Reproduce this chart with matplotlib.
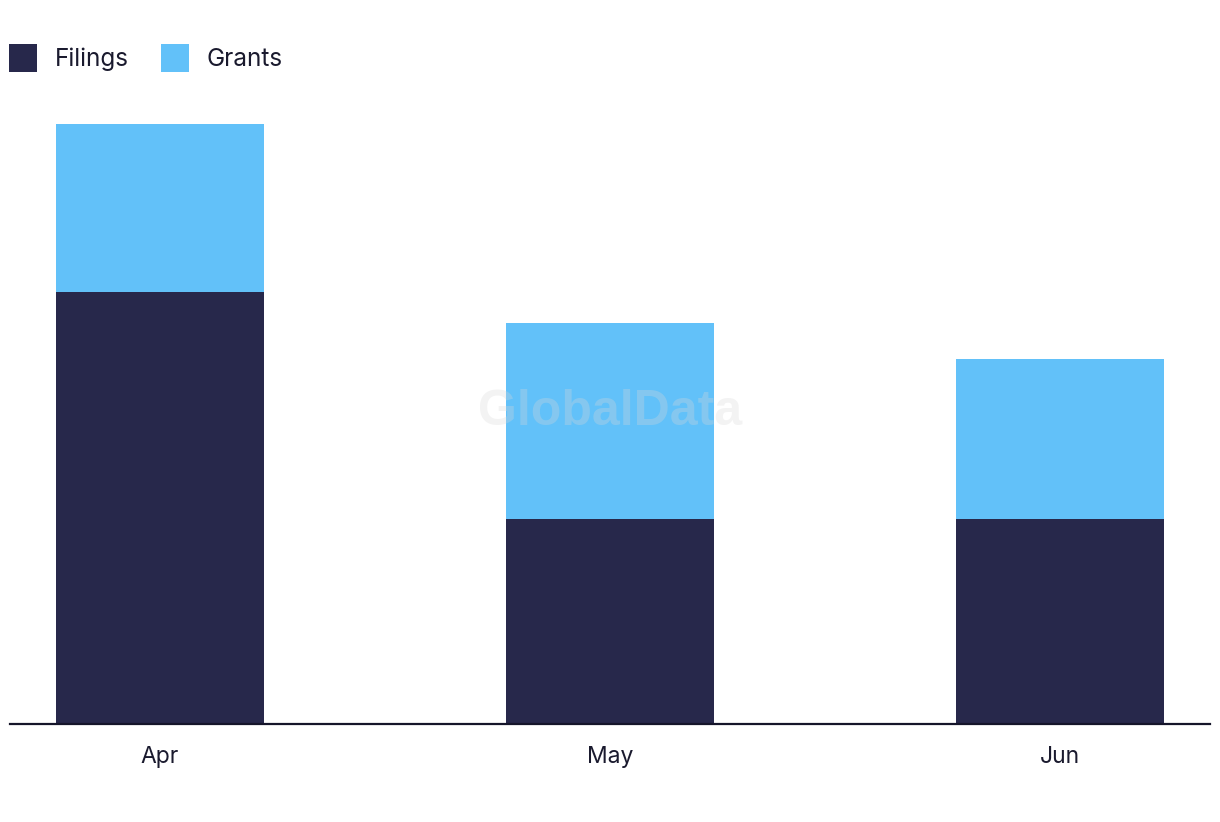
import matplotlib.pyplot as plt
import numpy as np

months = ['Apr', 'May', 'Jun']
filings = [43.2, 20.5, 20.5]
grants = [16.8, 19.6, 16.0]

navy = '#27284b'
blue = '#62c1f9'

plt.rcParams['font.family'] = ['Inter', 'DejaVu Sans']

fig = plt.figure(figsize=(12.2, 8.22), dpi=100)
ax = fig.add_axes([10/1220, 1 - 724/822, 1200/1220, (724 - 100)/822])

x = np.arange(len(months))
ax.bar(x, filings, width=0.462, color=navy, label='Filings')
ax.bar(x, grants, width=0.462, bottom=filings, color=blue, label='Grants')

ax.set_xlim(-0.333, 2.333)
ax.set_ylim(0, 62.4)
ax.set_xticks(x)
ax.set_xticklabels(months, fontsize=16.5, color='#1a1a2e')
ax.tick_params(axis='x', length=0, pad=16)
ax.set_yticks([])
for s in ['top', 'right', 'left']:
    ax.spines[s].set_visible(False)
ax.spines['bottom'].set_color('#15152a')
ax.spines['bottom'].set_linewidth(1.6)

# faint watermark
ax.text(0.5, 0.5, 'GlobalData', transform=ax.transAxes, ha='center', va='center',
        fontsize=36, fontweight='bold', family='Liberation Sans', color='#d8d8d8',
        alpha=0.3, zorder=5)

leg = fig.legend(loc='upper left', bbox_to_anchor=(9/1220, 1 - 44/822), ncol=2, frameon=False,
                 fontsize=17.5, handlelength=1.15, handleheight=1.4, handletextpad=0.72,
                 columnspacing=1.35, borderaxespad=0, borderpad=0.0)
for t in leg.get_texts():
    t.set_color('#1a1a2e')

fig.savefig('out.png', dpi=100)
